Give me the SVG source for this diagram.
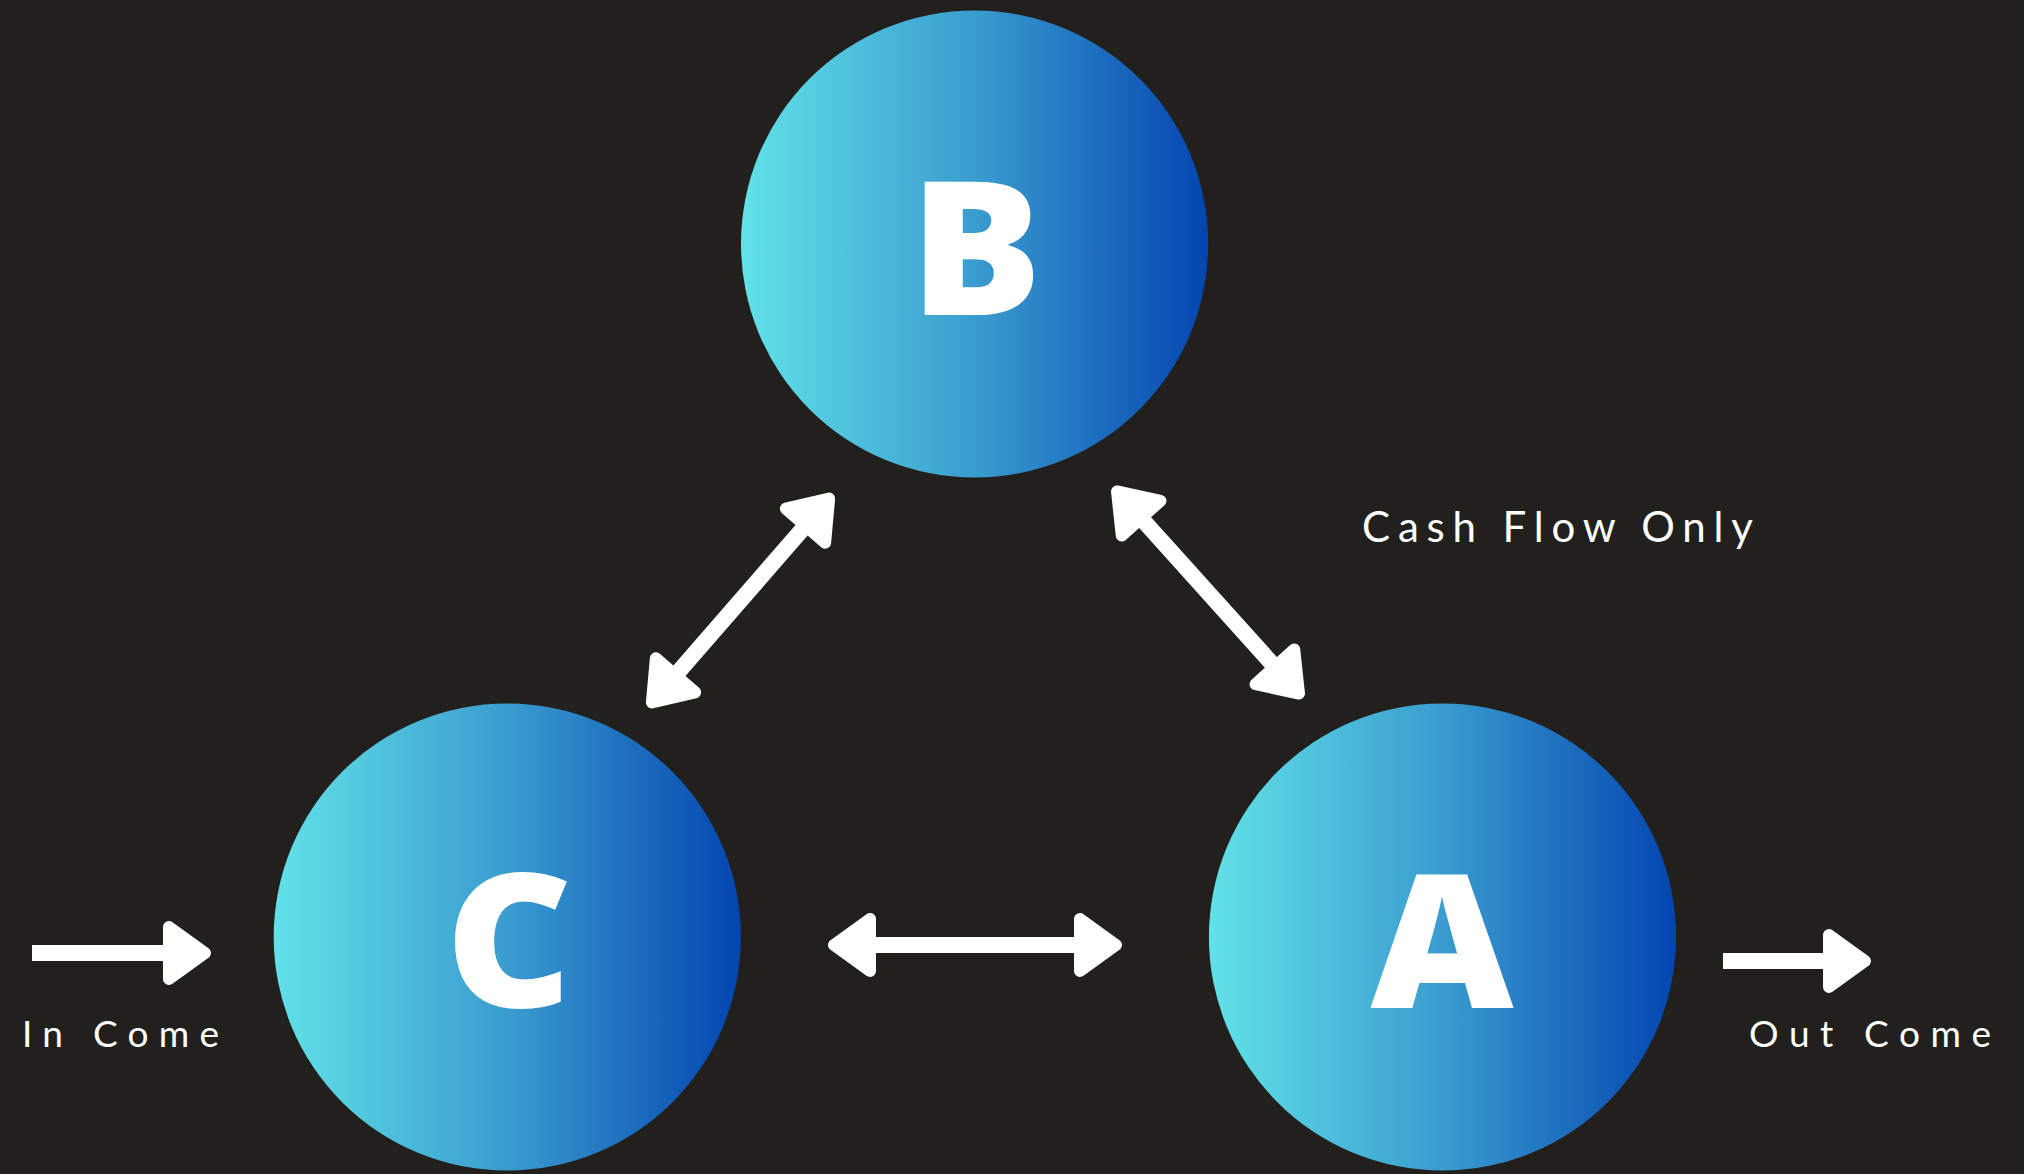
<svg xmlns="http://www.w3.org/2000/svg" width="2024" height="1174" viewBox="0 0 2024 1174">
<defs>
<linearGradient id="grad" x1="0" y1="0" x2="1" y2="0">
<stop offset="0" stop-color="#62e2e8"/>
<stop offset="0.5" stop-color="#3a9ccf"/>
<stop offset="1" stop-color="#0345b0"/>
</linearGradient>
<marker id="head" markerUnits="userSpaceOnUse" viewBox="0 0 60 72" markerWidth="60" markerHeight="72" refX="6" refY="36" orient="auto-start-reverse" overflow="visible">
<path d="M6,10 L42,36 L6,62 Z" fill="#ffffff" stroke="#ffffff" stroke-width="12" stroke-linejoin="round"/>
</marker>
<style>
.node{fill:url(#grad);}
.letter{font-family:"Open Sans",Lato,"Liberation Sans",sans-serif;font-weight:800;font-size:186px;fill:#ffffff;text-anchor:middle;}
.label{font-family:Lato,"Open Sans","Liberation Sans",sans-serif;font-weight:400;fill:#ffffff;}
.conn{stroke:#ffffff;stroke-width:16;fill:none;stroke-linecap:butt;}
</style>
</defs>
<rect x="0" y="0" width="2024" height="1174" fill="#21201d"/>
<g id="node-B">
<circle class="node" cx="974.6" cy="244" r="233.6"/>
<text class="letter" x="976" y="315" transform="translate(976 0) scale(1.06 1) translate(-976 0)">B</text>
</g>
<g id="node-C">
<circle class="node" cx="507.3" cy="937" r="233.6"/>
<text class="letter" x="509" y="1007" transform="translate(509 0) scale(1.06 1) translate(-509 0)">C</text>
</g>
<g id="node-A">
<circle class="node" cx="1442.5" cy="937" r="233.6"/>
<text class="letter" x="1442" y="1008" transform="translate(1442 0) scale(1.06 1) translate(-1442 0)">A</text>
</g>
<g id="connectors">
<line class="conn" x1="32" y1="953" x2="169" y2="953" marker-end="url(#head)"/>
<line class="conn" x1="1723" y1="961" x2="1829" y2="961" marker-end="url(#head)"/>
<line class="conn" x1="870" y1="945" x2="1080" y2="945" marker-start="url(#head)" marker-end="url(#head)"/>
<line class="conn" x1="675.5" y1="675.3" x2="805.5" y2="525.7" marker-start="url(#head)" marker-end="url(#head)"/>
<line class="conn" x1="1141.1" y1="518.2" x2="1274.9" y2="666.8" marker-start="url(#head)" marker-end="url(#head)"/>
</g>
<g id="labels">
<text class="label" x="1362" y="542" font-size="42" textLength="391" lengthAdjust="spacing">Cash Flow Only</text>
<text class="label" x="22" y="1047" font-size="37" textLength="197" lengthAdjust="spacing">In Come</text>
<text class="label" x="1749" y="1047" font-size="37" textLength="242" lengthAdjust="spacing">Out Come</text>
</g>
</svg>
